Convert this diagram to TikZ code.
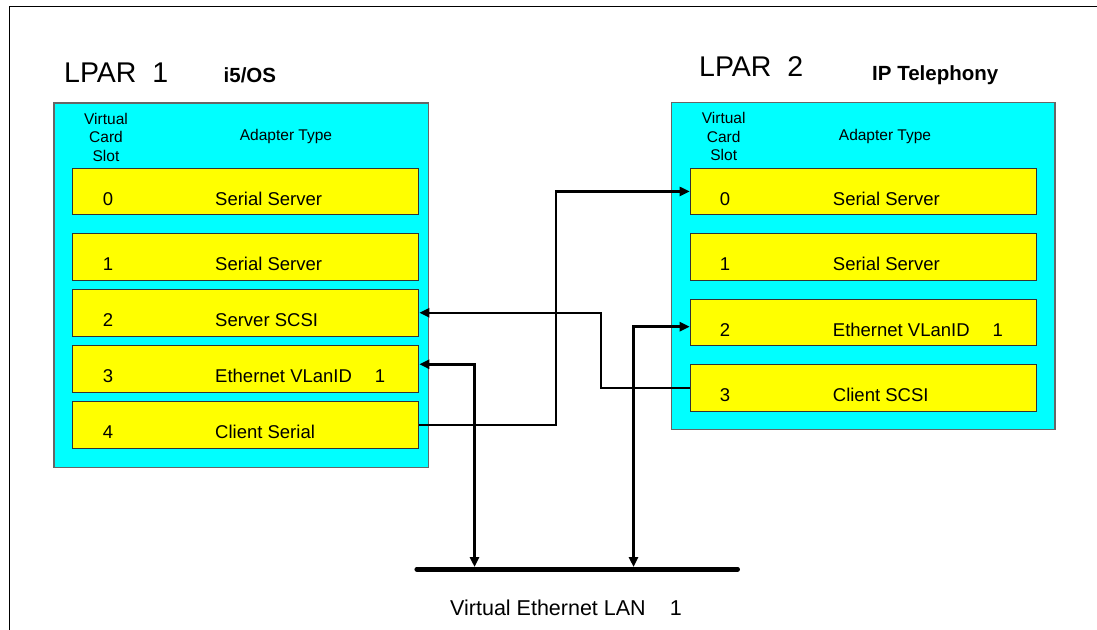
\documentclass[tikz,border=0pt]{standalone}
\usepackage{fontspec}
\setmainfont{Liberation Sans}
\usetikzlibrary{arrows.meta}
\definecolor{partcyan}{HTML}{00FFFF}
\definecolor{cardyellow}{HTML}{FFFF00}
\tikzset{
  lparbox/.style={draw=black!60, line width=1.3pt, fill=partcyan, inner sep=0pt, anchor=north west},
  card/.style={draw=black!80, line width=1pt, fill=cardyellow, minimum width=346pt,
               minimum height=46.5pt, inner sep=0pt, anchor=north west},
  cardtext/.style={font=\fontsize{18.5}{20}\selectfont, inner sep=0pt, anchor=base west},
  cardnum/.style={font=\fontsize{18.5}{20}\selectfont, inner sep=0pt, anchor=base},
  header/.style={font=\fontsize{15.5}{17}\selectfont, inner sep=0pt, anchor=base},
  lparname/.style={font=\fontsize{28.5}{31}\selectfont, inner sep=0pt, anchor=base west},
  ostag/.style={font=\bfseries\fontsize{20.5}{23}\selectfont, inner sep=0pt, anchor=base west},
  link/.style={line width=2.2pt, -{Triangle[length=10pt,width=9pt]}},
  trunk/.style={line width=3pt, {Triangle[length=10pt,width=9pt]}-{Triangle[length=10pt,width=9pt]}},
}
\begin{document}
\begin{tikzpicture}[x=1pt,y=-1pt]
\useasboundingbox (0,0) rectangle (1097,629);
\fill[white] (0,0) rectangle (1097,629);
% page frame
\draw[line width=1pt] (9.3,640) -- (9.3,6) -- (1110,6);

% ---------- LPAR 1 ----------
\node[lparname] (n1) at (64,82.7) {LPAR\ \ 1};
\node[ostag] (os1) at (223.5,82.7) {i5/OS};
\node[lparbox, minimum width=374.4pt, minimum height=364.4pt] (P1) at (53.3,102.3) {};
\foreach \t [count=\i] in {Virtual,Card,Slot}
  \node[header] (h1\i) at (106,{124+18.65*(\i-1)}) {\t};
\node[header] (a1) at (286,140.5) {Adapter Type};
\node[card] (L0) at (72.3,167.7) {};
\node[card] (L1) at (72.3,233) {};
\node[card] (L2) at (72.3,289) {};
\node[card] (L3) at (72.3,345.3) {};
\node[card] (L4) at (72.3,401) {};
\foreach \r/\n/\t in {L0/0/Serial Server, L1/1/Serial Server, L2/2/Server SCSI,
                      L3/3/Ethernet VLanID\hspace{23pt}1, L4/4/Client Serial}{
  \path (\r.south west) ++(35.7,-10) node[cardnum] {\n};
  \path (\r.south west) ++(142.7,-10) node[cardtext] {\t};
}

% ---------- LPAR 2 ----------
\node[lparname] (n2) at (699,76.7) {LPAR\ \ 2};
\node[ostag] (os2) at (872,80) {IP Telephony};
\node[lparbox, minimum width=383.3pt, minimum height=327pt] (P2) at (671,102) {};
\foreach \t [count=\i] in {Virtual,Card,Slot}
  \node[header] (h2\i) at (723.7,{123.3+18.7*(\i-1)}) {\t};
\node[header] (a2) at (885,140) {Adapter Type};
\node[card] (R0) at (689.7,167.7) {};
\node[card] (R1) at (689.7,233) {};
\node[card] (R2) at (689.7,298.7) {};
\node[card] (R3) at (689.7,364) {};
\foreach \r/\n/\t in {R0/0/Serial Server, R1/1/Serial Server,
                      R2/2/Ethernet VLanID\hspace{23pt}1, R3/3/Client SCSI}{
  \path (\r.south west) ++(35.3,-10) node[cardnum] {\n};
  \path (\r.south west) ++(143,-10) node[cardtext] {\t};
}

% ---------- virtual Ethernet LAN ----------
\coordinate (busL) at (416.7,569.3);
\coordinate (busR) at (737.7,569.3);
\coordinate (tapA) at (474.5,567);
\coordinate (tapB) at (633.5,567);
\draw[line width=4.5pt, line cap=round] (busL) -- (busR);
\node[font=\fontsize{21.5}{24}\selectfont, inner sep=0pt, anchor=base west] (lan)
  at (450,615) {Virtual Ethernet LAN\hspace{24pt}1};

% ---------- connections ----------
\draw[link] (L4.east) -- ++(136.5,0) |- (R0.west);
\draw[link] (R3.west) -- ++(-89,0) |- (L2.east);
\draw[trunk] ([yshift=4.8pt]L3.east) -| (tapA);
\draw[trunk] (tapB) |- ([yshift=-4.2pt]R2.west);
\end{tikzpicture}
\end{document}
